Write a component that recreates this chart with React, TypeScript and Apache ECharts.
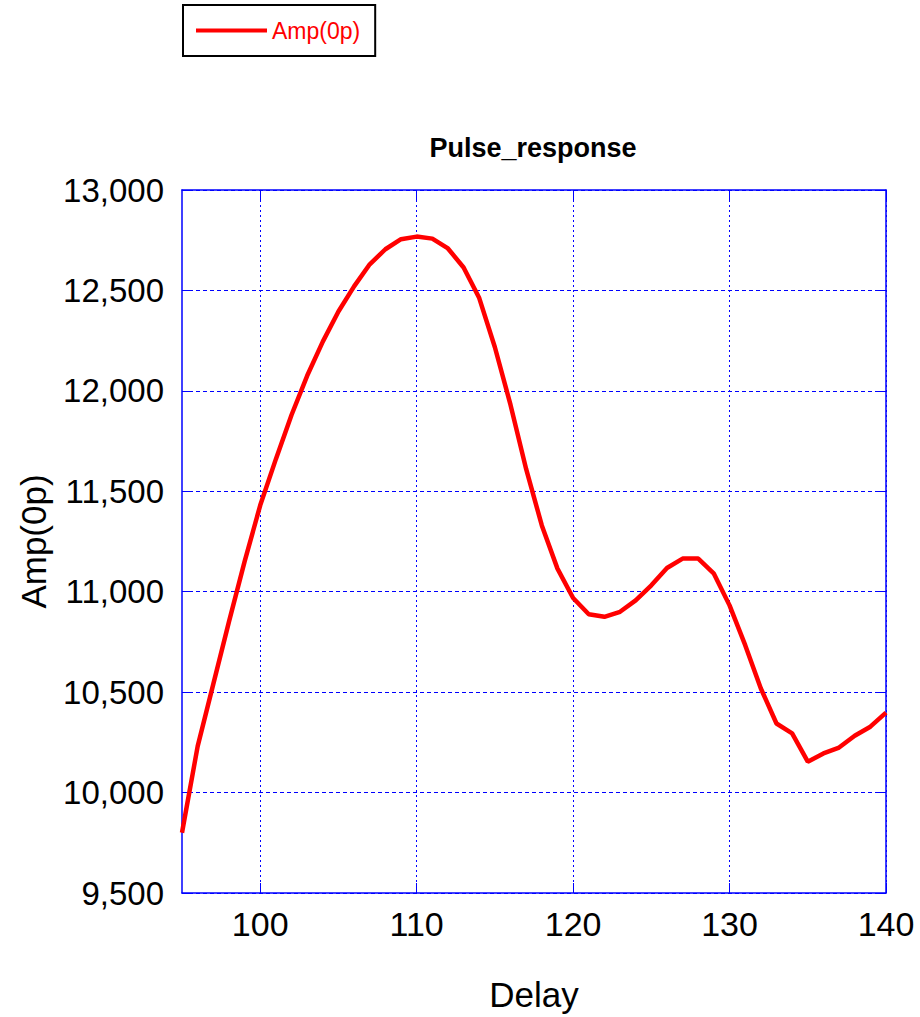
import React, { useEffect, useRef } from "react";
import * as echarts from "echarts";

const delays = [95, 96, 97, 98, 99, 100, 101, 102, 103, 104, 105, 106, 107, 108, 109, 110, 111, 112, 113, 114, 115, 116, 117, 118, 119, 120, 121, 122, 123, 124, 125, 126, 127, 128, 129, 130, 131, 132, 133, 134, 135, 136, 137, 138, 139, 140];
const amp0p = [9800, 10230, 10540, 10850, 11150, 11430, 11660, 11880, 12075, 12245, 12395, 12520, 12630, 12705, 12755, 12768, 12758, 12709, 12614, 12462, 12217, 11930, 11610, 11330, 11115, 10969, 10888, 10875, 10900, 10957, 11032, 11118, 11165, 11165, 11090, 10932, 10734, 10518, 10344, 10295, 10154, 10195, 10224, 10283, 10328, 10398];
const xTicks = [100, 110, 120, 130, 140];
const seriesName = "Amp(0p)";
const titleText = "Pulse_response";
const xName = "Delay";
const yName = "Amp(0p)";

const BLUE = "#0000ff";
const SANS = "'Liberation Sans', Arial, Helvetica, sans-serif";

export default function App() {
  const ref = useRef<HTMLDivElement>(null);
  useEffect(() => {
    if (!ref.current) return;
    const chart = echarts.init(ref.current, undefined, { renderer: "svg" });
    const data = delays.map((d, i) => [d, amp0p[i]]);
    chart.setOption({
      animation: false,
      backgroundColor: "#ffffff",
      title: {
        text: titleText,
        left: 533,
        top: 134,
        padding: 0,
        textAlign: "center",
        textStyle: { fontFamily: SANS, fontWeight: "bold", fontSize: 27, color: "#000" },
      },
      legend: {
        left: 183,
        top: 5,
        padding: [14, 15, 14, 13],
        borderColor: "#000",
        borderWidth: 2,
        icon: "rect",
        itemWidth: 71,
        itemHeight: 4,
        itemGap: 5,
        data: [seriesName],
        textStyle: { color: "#ff0000", fontSize: 23, fontFamily: SANS },
      },
      grid: { left: 182, right: 34, top: 190, bottom: 123, containLabel: false },
      xAxis: [
        {
          type: "value",
          min: 95,
          max: 140,
          name: xName,
          nameLocation: "middle",
          nameGap: 84,
          nameTextStyle: { fontFamily: SANS, fontSize: 35, color: "#000" },
          axisLine: { show: true, onZero: false, lineStyle: { color: BLUE, width: 1.5 } },
          axisTick: { show: true, inside: true, length: 10, customValues: xTicks, lineStyle: { color: BLUE } },
          axisLabel: {
            customValues: xTicks,
            margin: 14,
            fontFamily: SANS,
            fontSize: 34,
            color: "#000",
          },
          splitLine: { show: true, lineStyle: { color: BLUE, type: [2, 3], width: 1 } },
        },
        {
          type: "value",
          position: "top",
          min: 95,
          max: 140,
          axisLine: { show: true, onZero: false, lineStyle: { color: BLUE, width: 1.5 } },
          axisTick: { show: true, inside: true, length: 10, customValues: xTicks, lineStyle: { color: BLUE } },
          axisLabel: { show: false },
          splitLine: { show: false },
        },
      ],
      yAxis: [
        {
          type: "value",
          min: 9500,
          max: 13000,
          interval: 500,
          name: yName,
          nameLocation: "middle",
          nameGap: 131,
          nameTextStyle: { fontFamily: SANS, fontSize: 35, color: "#000" },
          axisLine: { show: true, onZero: false, lineStyle: { color: BLUE, width: 1.5 } },
          axisTick: { show: true, inside: true, length: 10, lineStyle: { color: BLUE } },
          axisLabel: {
            margin: 18,
            fontFamily: SANS,
            fontSize: 33,
            color: "#000",
            formatter: (v: number) => v.toLocaleString("en-US"),
          },
          splitLine: { show: true, lineStyle: { color: BLUE, type: [4, 3], width: 1 } },
        },
        {
          type: "value",
          position: "right",
          min: 9500,
          max: 13000,
          interval: 500,
          axisLine: { show: true, onZero: false, lineStyle: { color: BLUE, width: 1.5 } },
          axisTick: { show: true, inside: true, length: 10, lineStyle: { color: BLUE } },
          axisLabel: { show: false },
          splitLine: { show: false },
        },
      ],
      series: [
        {
          name: seriesName,
          type: "line",
          data,
          xAxisIndex: 0,
          yAxisIndex: 0,
          symbol: "none",
          showSymbol: false,
          lineStyle: { color: "#ff0000", width: 4.5 },
          itemStyle: { color: "#ff0000" },
        },
      ],
    });
    return () => chart.dispose();
  }, []);
  return (
    <div
      ref={ref}
      style={{ position: "fixed", left: 0, top: 0, width: 920, height: 1017, background: "#fff" }}
    />
  );
}
